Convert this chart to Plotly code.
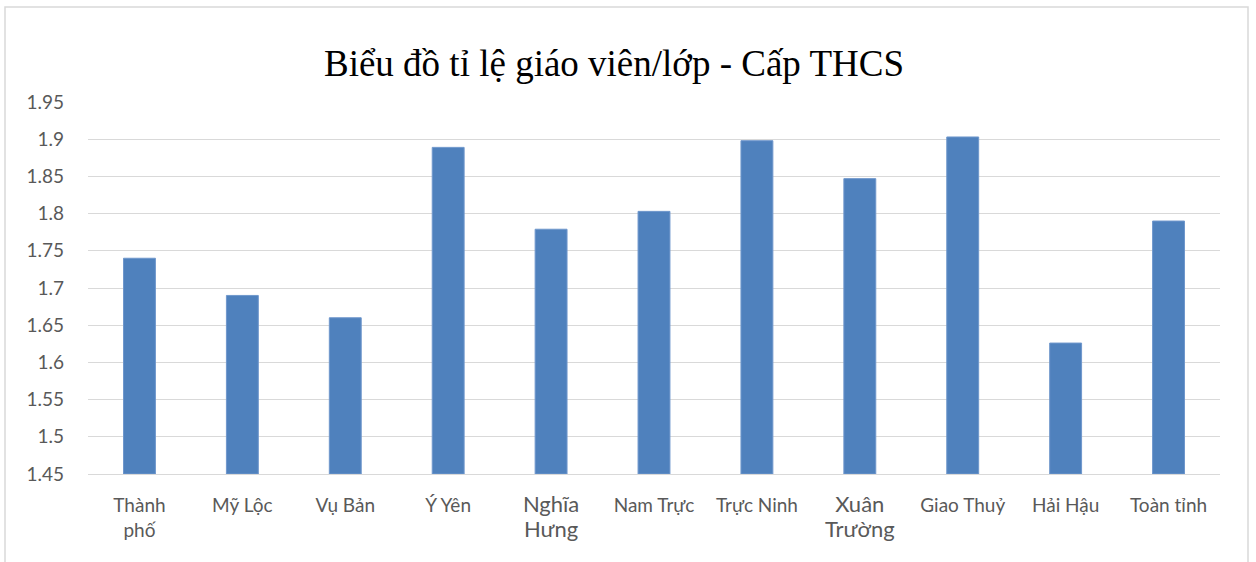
import plotly.graph_objects as go

categories = ["Thành<br>phố", "Mỹ Lộc", "Vụ Bản", "Ý Yên",
              "<span style='font-size:22px'>Nghĩa<br>Hưng</span>", "Nam Trực",
              "Trực Ninh", "<span style='font-size:22px'>Xuân<br>Trường</span>",
              "Giao Thuỷ", "Hải Hậu", "Toàn tỉnh"]
values = [1.74, 1.69, 1.66, 1.889, 1.779, 1.803, 1.898, 1.847, 1.903, 1.626, 1.79]
y_tickvals = [1.45, 1.5, 1.55, 1.6, 1.65, 1.7, 1.75, 1.8, 1.85, 1.9, 1.95]
y_ticktext = ["1.45", "1.5", "1.55", "1.6", "1.65", "1.7", "1.75", "1.8", "1.85", "1.9", "1.95"]
title = "Biểu đồ tỉ lệ giáo viên/lớp - Cấp THCS"
base_value = 1.45

W, H = 1256, 562
L, R, T, B = 88, 36, 102, 88
pw, ph = W - L - R, H - T - B

fig = go.Figure(go.Bar(
    x=categories, y=[v - base_value for v in values], base=base_value,
    marker=dict(color="#4F81BD", line=dict(color="#6f97cc", width=1)),
))

fig.update_layout(
    width=W, height=H,
    margin=dict(l=L, r=R, t=T, b=B),
    paper_bgcolor="white", plot_bgcolor="white",
    bargap=0.69,
    showlegend=False,
    title=dict(text=title, x=614 / W, xref="container", xanchor="center",
               y=1 - 63 / H, yref="container", yanchor="middle",
               font=dict(family="Liberation Serif", size=37, color="black")),
    font=dict(family="Lato", size=18, color="#595959"),
)
fig.update_xaxes(showgrid=False, showline=True, linecolor="#d9d9d9", linewidth=1,
                 ticks="", ticklabelstandoff=14,
                 tickfont=dict(family="Lato", size=19, color="#595959"))
fig.update_yaxes(range=[1.45, 1.95], tickvals=y_tickvals, ticktext=y_ticktext,
                 showgrid=True, gridcolor="#d9d9d9", gridwidth=1, zeroline=False,
                 ticks="", ticklabelstandoff=23,
                 tickfont=dict(family="Lato", size=19, color="#595959"))

# outer chart frame
fig.add_shape(type="rect", xref="paper", yref="paper",
              x0=(5 - L) / pw, x1=(1248 - L) / pw,
              y0=-(H - 474 + 20) / ph, y1=(474 - 7) / ph,
              line=dict(color="#d9d9d9", width=1.5), fillcolor="rgba(0,0,0,0)", layer="below")

fig.write_html("out.html",
               config={"displayModeBar": False},
               post_script="document.body.style.margin='0';document.body.style.overflow='hidden';")
